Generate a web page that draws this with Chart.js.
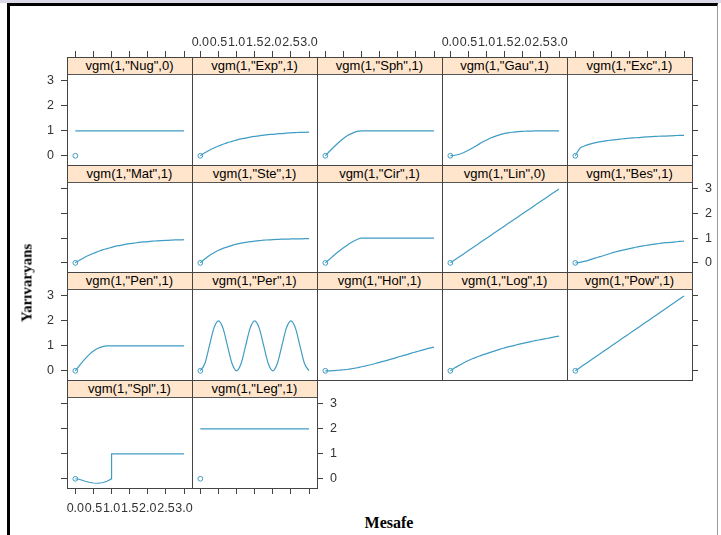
<!DOCTYPE html>
<html>
<head>
<meta charset="utf-8">
<script src="https://cdn.jsdelivr.net/npm/chart.js@4.4.1/dist/chart.umd.min.js"></script>
<style>
html,body{margin:0;padding:0;background:#fff;}
body{width:721px;height:535px;overflow:hidden;position:relative;font-family:"Liberation Sans",Arial,sans-serif;}
#topband{position:absolute;left:0;top:0;width:721px;height:3px;background:#dcd8e6;}
#frame{position:absolute;left:7px;top:3px;width:711px;height:540px;box-sizing:border-box;border-left:3px solid #000;border-top:3px solid #000;border-right:1px solid #999;}
.strip{position:absolute;box-sizing:border-box;background:#ffe5cc;border-bottom:1px solid #555;font-size:13px;line-height:17px;text-align:center;color:#000;white-space:nowrap;z-index:0;}
canvas{position:absolute;z-index:1;pointer-events:none;}
.ttl{position:absolute;font-family:"Liberation Serif","Times New Roman",serif;font-weight:bold;color:#000;white-space:nowrap;z-index:2;}
</style>
</head>
<body>
<div id="topband"></div>
<div id="frame"></div>
<div class="ttl" id="ytitle" style="left:27px;top:283px;font-size:15px;transform:translate(-50%,-50%) rotate(-90deg);">Yarıvaryans</div>
<div class="ttl" id="xtitle" style="left:389px;top:523px;font-size:16px;transform:translate(-50%,-50%);">Mesafe</div>
<script>
// ---------- data ----------
const panelTitles = [
  'vgm(1,"Nug",0)','vgm(1,"Exp",1)','vgm(1,"Sph",1)','vgm(1,"Gau",1)','vgm(1,"Exc",1)',
  'vgm(1,"Mat",1)','vgm(1,"Ste",1)','vgm(1,"Cir",1)','vgm(1,"Lin",0)','vgm(1,"Bes",1)',
  'vgm(1,"Pen",1)','vgm(1,"Per",1)','vgm(1,"Hol",1)','vgm(1,"Log",1)','vgm(1,"Pow",1)',
  'vgm(1,"Spl",1)','vgm(1,"Leg",1)'
];
const distance = [0,0.125,0.25,0.375,0.5,0.625,0.75,0.875,1,1.125,1.25,1.375,1.5,1.625,1.75,1.875,2,2.125,2.25,2.375,2.5,2.625,2.75,2.875,3];
const nug = [1,1,1,1,1,1,1,1,1,1,1,1,1,1,1,1,1,1,1,1,1,1,1,1,1];
const exp = [0,0.12,0.22,0.31,0.39,0.46,0.53,0.58,0.63,0.68,0.71,0.75,0.78,0.80,0.83,0.85,0.86,0.88,0.89,0.91,0.92,0.93,0.94,0.94,0.95];
const sph = [0,0.19,0.37,0.54,0.69,0.82,0.91,0.98,1,1,1,1,1,1,1,1,1,1,1,1,1,1,1,1,1];
const gau = [0,0.02,0.06,0.13,0.22,0.32,0.43,0.54,0.63,0.72,0.79,0.85,0.90,0.93,0.95,0.97,0.98,0.99,0.99,1,1,1,1,1,1];
const exc = [0,0.30,0.39,0.46,0.51,0.55,0.58,0.61,0.63,0.65,0.67,0.69,0.71,0.72,0.73,0.75,0.76,0.77,0.78,0.79,0.79,0.80,0.81,0.82,0.82];
const mat = [0,0.12,0.22,0.31,0.39,0.46,0.53,0.58,0.63,0.68,0.71,0.75,0.78,0.80,0.83,0.85,0.86,0.88,0.89,0.90,0.91,0.92,0.93,0.93,0.94];
const ste = [0,0.16,0.30,0.41,0.51,0.59,0.65,0.71,0.76,0.80,0.83,0.86,0.88,0.90,0.92,0.93,0.94,0.95,0.96,0.96,0.97,0.97,0.97,0.98,0.98];
const cir = [0,0.16,0.32,0.47,0.61,0.74,0.86,0.95,1,1,1,1,1,1,1,1,1,1,1,1,1,1,1,1,1];
const lin = [0,0.125,0.25,0.375,0.5,0.625,0.75,0.875,1,1.125,1.25,1.375,1.5,1.625,1.75,1.875,2,2.125,2.25,2.375,2.5,2.625,2.75,2.875,3];
const bes = [0,0.02,0.06,0.11,0.17,0.23,0.28,0.34,0.40,0.45,0.50,0.54,0.58,0.62,0.66,0.69,0.72,0.75,0.77,0.80,0.82,0.83,0.85,0.87,0.88];
const pen = [0,0.23,0.45,0.64,0.79,0.90,0.97,1,1,1,1,1,1,1,1,1,1,1,1,1,1,1,1,1,1];
const per = [0,0.29,1,1.71,2,1.71,1,0.29,0,0.29,1,1.71,2,1.71,1,0.29,0,0.29,1,1.71,2,1.71,1,0.29,0];
const hol = [0,0.00,0.01,0.02,0.04,0.06,0.09,0.12,0.16,0.20,0.24,0.29,0.34,0.39,0.44,0.49,0.55,0.60,0.65,0.71,0.76,0.81,0.86,0.91,0.95];
const logm = [0,0.12,0.22,0.32,0.41,0.49,0.56,0.63,0.69,0.75,0.81,0.87,0.92,0.97,1.01,1.06,1.10,1.14,1.18,1.22,1.25,1.29,1.32,1.36,1.39];
const pow = [0,0.125,0.25,0.375,0.5,0.625,0.75,0.875,1,1.125,1.25,1.375,1.5,1.625,1.75,1.875,2,2.125,2.25,2.375,2.5,2.625,2.75,2.875,3];
const splDistance = [0,0.125,0.25,0.375,0.5,0.625,0.75,0.875,1,1,3];
const spl = [0,-0.03,-0.09,-0.14,-0.17,-0.18,-0.16,-0.10,0,1,1];
const leg = [2,2,2,2,2,2,2,2,2,2,2,2,2,2,2,2,2,2,2,2,2,2,2,2,2];
const originDistance = [0];
const originValues = [0,0,0,0,0,0,0,0,0,0,0,0,0,0,0,0,0];
const xTickValues = [0,0.5,1,1.5,2,2.5,3];
const yTickValues = [0,1,2,3];

const panelSeries = [
  [distance,nug],[distance,exp],[distance,sph],[distance,gau],[distance,exc],
  [distance,mat],[distance,ste],[distance,cir],[distance,lin],[distance,bes],
  [distance,pen],[distance,per],[distance,hol],[distance,logm],[distance,pow],
  [splDistance,spl],[distance,leg]
];

// ---------- layout ----------
const M = 40;
const COL_LEFT = 67, COL_W = 125;
const ROW_TOP = [57,165,272,380,488];
const STRIP_H = 17;
const X_LO = -0.23, X_HI = 3.22;
const Y_LO = -0.37, Y_HI = 3.28;
const LINE = '#3f9cc4';
const AX = '#444';
const TXT = '#333';
const FONT = {family:'"Liberation Sans", Arial, sans-serif', size:12.5};
const NCOL = 5;
const nPanels = panelTitles.length;
const lastRow = Math.floor((nPanels-1)/NCOL);

function xAxis(pos, marks, labels){
  return {
    type:'linear', position:pos, min:X_LO, max:X_HI,
    afterBuildTicks:s=>{ s.ticks = xTickValues.map(v=>({value:v})); },
    afterFit:s=>{ s.height = M; },
    grid:{display:marks, drawOnChartArea:false, drawTicks:true, tickLength:6, color:AX, lineWidth:1},
    border:{display:true, color:AX, width:1},
    ticks:{display:labels, autoSkip:false, maxRotation:0, minRotation:0, padding:pos==='top'?1:7, color:TXT, font:FONT,
      callback:v=>Number(v).toFixed(1)}
  };
}
function yAxis(pos, marks, labels, yMax){
  return {
    type:'linear', position:pos, min:Y_LO, max:yMax,
    afterBuildTicks:s=>{ s.ticks = yTickValues.map(v=>({value:v})); },
    afterFit:s=>{ s.width = M; },
    grid:{display:marks, drawOnChartArea:false, drawTicks:true, tickLength:6, color:AX, lineWidth:1},
    border:{display:true, color:AX, width:1},
    ticks:{display:labels, autoSkip:false, padding:7, color:TXT, font:FONT, callback:v=>String(v)}
  };
}

for(let i=0;i<nPanels;i++){
  const r = Math.floor(i/NCOL), c = i%NCOL;
  const L = COL_LEFT + c*COL_W;
  const T = ROW_TOP[r];
  const H = ROW_TOP[r+1]-T;
  const panelH = H - STRIP_H;
  const yMax = Y_HI + STRIP_H*(Y_HI-Y_LO)/panelH;
  const lastInRow = (i===nPanels-1) || (c===NCOL-1);

  const strip = document.createElement('div');
  strip.className='strip';
  strip.style.left=L+'px'; strip.style.top=T+'px';
  strip.style.width=COL_W+'px'; strip.style.height=(STRIP_H+1)+'px';
  strip.textContent = panelTitles[i];
  document.body.appendChild(strip);

  const cv = document.createElement('canvas');
  cv.width = COL_W + 2*M; cv.height = H + 2*M;
  cv.style.left=(L-M)+'px'; cv.style.top=(T-M)+'px';
  cv.style.width=cv.width+'px'; cv.style.height=cv.height+'px';
  document.body.appendChild(cv);

  const [xs, ys] = panelSeries[i];
  const isSpl = (xs===splDistance);
  new Chart(cv, {
    type:'line',
    data:{datasets:[
      {data:xs.map((x,k)=>({x:x,y:ys[k]})), borderColor:LINE, borderWidth:1.2, pointRadius:0, fill:false,
       cubicInterpolationMode:isSpl?'default':'monotone', tension:0, xAxisID:'x', yAxisID:'y'},
      {data:originDistance.map(x=>({x:x,y:originValues[i]})), showLine:false, pointRadius:2.4, pointBorderWidth:1,
       pointBackgroundColor:'rgba(0,0,0,0)', pointBorderColor:LINE, xAxisID:'x', yAxisID:'y'}
    ]},
    options:{
      responsive:false, maintainAspectRatio:false, animation:false, devicePixelRatio:1, events:[],
      layout:{padding:0},
      plugins:{legend:{display:false}, tooltip:{enabled:false}, title:{display:false}},
      scales:{
        x: xAxis('bottom', r===lastRow, r===lastRow && c%2===0),
        xt: xAxis('top', r===0, r===0 && c%2===1),
        y: yAxis('left', c===0, c===0 && r%2===0, yMax),
        yr: yAxis('right', lastInRow, lastInRow && r%2===1, yMax)
      }
    }
  });
}
</script>
</body>
</html>
